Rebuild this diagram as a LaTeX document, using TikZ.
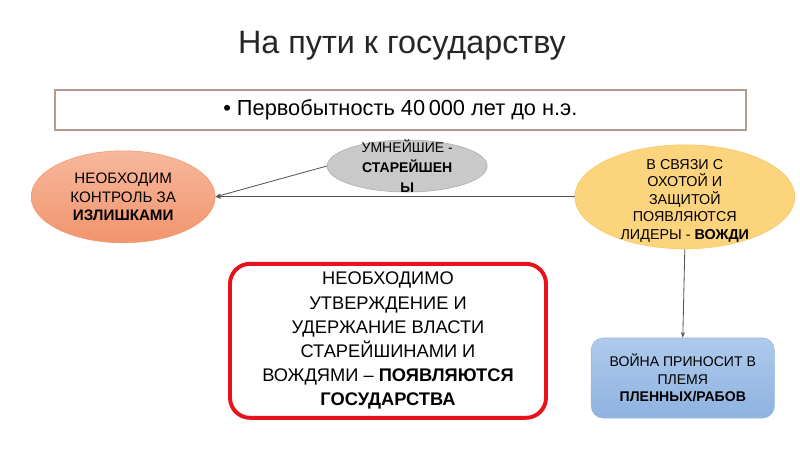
\documentclass[tikz,border=0pt]{standalone}
\usepackage{fontspec}
\setmainfont{Liberation Sans}
\usetikzlibrary{arrows.meta, positioning, shapes.geometric}

\definecolor{framebrown}{HTML}{B39C8E}
\definecolor{orangetop}{HTML}{F7B89C}
\definecolor{orangebot}{HTML}{F1946E}
\definecolor{orangeline}{HTML}{EE9A6E}
\definecolor{greyfill}{HTML}{C9C9C9}
\definecolor{greyline}{HTML}{ABABAB}
\definecolor{yellowfill}{HTML}{FDD47E}
\definecolor{yellowline}{HTML}{F7C764}
\definecolor{bluetop}{HTML}{AFCAEC}
\definecolor{bluebot}{HTML}{8EB2E0}
\definecolor{blueline}{HTML}{95B5DF}
\definecolor{alarmred}{HTML}{E8121C}
\definecolor{connline}{HTML}{555555}

\begin{document}
\begin{tikzpicture}[
    oval/.style={
        ellipse, inner sep=0pt,
        align=center, font=\fontsize{10}{12.6}\selectfont
    },
    arr/.style={-{Stealth[length=4pt,width=3pt]}, connline, line width=0.6pt},
]
\useasboundingbox (0,0) rectangle (20,-11.25);

% Title
\node[font=\fontsize{23}{27}\selectfont, text=black!85] (title) at (10.05,-1.15) {На пути к государству};

% Period frame
\node[draw=framebrown, line width=1.1pt, minimum width=17.28cm, minimum height=1cm,
      font=\fontsize{15.5}{18}\selectfont] (period) at (10.01,-2.75)
      {\textbullet\ Первобытность 40\,000 лет до н.э.};

% Surplus (left)
\node[oval, draw=orangeline, top color=orangetop, bottom color=orangebot,
      minimum width=4.6cm, minimum height=2.3cm, font=\fontsize{10.8}{13}\selectfont]
      (surplus) at (3.08,-4.92)
      {НЕОБХОДИМ\\КОНТРОЛЬ ЗА\\\textbf{ИЗЛИШКАМИ}};

% Elders (grey, text runs over the edge)
\node[oval, draw=greyline, fill=greyfill,
      minimum width=4cm, minimum height=1.3cm] (elders) at (10.18,-4.15) {};
\node[align=center, font=\fontsize{10}{14}\selectfont] (elderstxt) at (elders.center)
      {УМНЕЙШИЕ -\\\textbf{СТАРЕЙШЕН}\\\textbf{Ы}};

% Chiefs (yellow)
\node[oval, draw=yellowline, fill=yellowfill,
      minimum width=5.5cm, minimum height=2.6cm] (chiefs) at (17.12,-4.92) {};
\node[align=center, font=\fontsize{10.2}{12.4}\selectfont] (chiefstxt) at ([yshift=-0.1cm]chiefs.center)
      {В СВЯЗИ С\\ОХОТОЙ И\\ЗАЩИТОЙ\\ПОЯВЛЯЮТСЯ\\ЛИДЕРЫ - \textbf{ВОЖДИ}};

% War and captives (blue)
\node[draw=blueline, top color=bluetop, bottom color=bluebot, rounded corners=0.3cm,
      minimum width=4.58cm, minimum height=2cm, align=center,
      font=\fontsize{10}{12.6}\selectfont] (captives) at (17.07,-9.45)
      {ВОЙНА ПРИНОСИТ В\\ПЛЕМЯ\\\textbf{ПЛЕННЫХ/РАБОВ}};

% State (red frame)
\node[draw=alarmred, line width=2.8pt, rounded corners=0.5cm, fill=white,
      minimum width=7.9cm, minimum height=3.85cm, align=center,
      font=\fontsize{13}{17.2}\selectfont] (state) at (9.7,-8.52)
      {НЕОБХОДИМО\\УТВЕРЖДЕНИЕ И\\УДЕРЖАНИЕ ВЛАСТИ\\СТАРЕЙШИНАМИ И\\ВОЖДЯМИ -- \textbf{ПОЯВЛЯЮТСЯ}\\\textbf{ГОСУДАРСТВА}};

% Connectors
\draw[arr] (elders.west) -- (surplus.east);
\draw[arr] (chiefs.west) -- (surplus.east);
\draw[arr] (chiefs.south) -- (captives.north);

\end{tikzpicture}
\end{document}
